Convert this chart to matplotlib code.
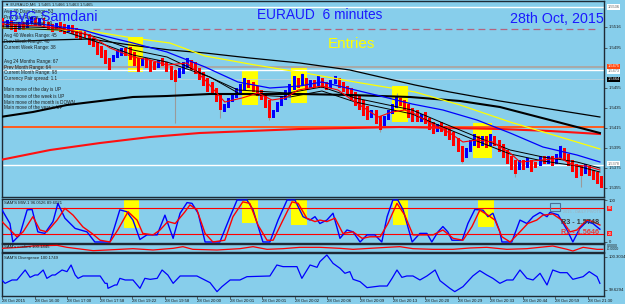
import numpy as np
import matplotlib
matplotlib.use('Agg')
import matplotlib.pyplot as plt
from matplotlib.patches import Rectangle
from matplotlib.transforms import blended_transform_factory as blend

plt.rcParams['font.family'] = ['Liberation Sans', 'DejaVu Sans']

# ---------------- data (prices in pips = price * 10000) ----------------
open_pips = [15525, 15515, 15523, 15519, 15513, 15521, 15515, 15519, 15525, 15517,
             15525, 15521, 15519, 15513, 15521, 15519, 15511, 15518, 15515, 15513,
             15513, 15509, 15505, 15501, 15497, 15493, 15485, 15481, 15485, 15487,
             15495, 15496, 15491, 15485, 15477, 15485, 15483, 15481, 15475, 15485,
             15481, 15477, 15473, 15465, 15469, 15475, 15483, 15481, 15475, 15471,
             15465, 15461, 15455, 15448, 15431, 15435, 15441, 15445, 15449, 15453,
             15463, 15461, 15457, 15453, 15449, 15443, 15425, 15431, 15437, 15443,
             15447, 15453, 15465, 15457, 15465, 15455, 15463, 15457, 15465, 15461,
             15455, 15459, 15465, 15461, 15457, 15455, 15451, 15447, 15443, 15437,
             15425, 15433, 15427, 15417, 15423, 15429, 15435, 15445, 15443, 15439,
             15435, 15433, 15421, 15431, 15425, 15421, 15411, 15421, 15417, 15415,
             15411, 15405, 15397, 15385, 15391, 15397, 15407, 15397, 15407, 15397,
             15407, 15403, 15399, 15393, 15387, 15383, 15373, 15383, 15375, 15383,
             15381, 15377, 15387, 15379, 15387, 15379, 15385, 15395, 15389, 15383,
             15379, 15377, 15369, 15377, 15373, 15371, 15367]
close_pips = [15515, 15523, 15513, 15511, 15521, 15513, 15523, 15526, 15517, 15525,
              15515, 15513, 15511, 15520, 15511, 15509, 15518, 15509, 15505, 15503,
              15505, 15498, 15496, 15488, 15485, 15479, 15473, 15488, 15493, 15495,
              15487, 15483, 15477, 15471, 15485, 15475, 15471, 15473, 15483, 15477,
              15471, 15463, 15461, 15475, 15481, 15485, 15473, 15469, 15463, 15457,
              15451, 15448, 15441, 15433, 15439, 15445, 15449, 15455, 15459, 15465,
              15455, 15451, 15447, 15443, 15435, 15425, 15433, 15441, 15447, 15453,
              15459, 15467, 15455, 15469, 15453, 15463, 15455, 15467, 15455, 15453,
              15463, 15467, 15455, 15451, 15447, 15443, 15437, 15433, 15427, 15423,
              15433, 15419, 15413, 15427, 15433, 15439, 15447, 15437, 15433, 15425,
              15421, 15421, 15429, 15419, 15413, 15409, 15419, 15411, 15407, 15403,
              15397, 15391, 15381, 15395, 15403, 15409, 15395, 15407, 15395, 15409,
              15397, 15391, 15385, 15379, 15373, 15369, 15383, 15373, 15385, 15371,
              15375, 15387, 15379, 15387, 15377, 15389, 15397, 15383, 15377, 15371,
              15365, 15367, 15379, 15367, 15363, 15359, 15355]
wick_idx = [42, 53, 65, 73, 92, 96, 112, 125, 136, 141]
wick_hi = [15475, 15448, 15443, 15470, 15427, 15450, 15397, 15383, 15398, 15377]
wick_lo = [15420, 15425, 15423, 15457, 15411, 15435, 15380, 15366, 15385, 15356]

# moving averages (bar position, pips)
ma_slow_x = [-0.7, 11.5, 21.2, 31.0, 40.7, 49.3, 60.2, 72.4, 84.6, 100.5, 109.0, 121.2, 133.4, 145.6]
ma_slow = [15501, 15503, 15504, 15498, 15493, 15490, 15485, 15480, 15473, 15458, 15451, 15442, 15434, 15426]
ma_long_x = [-0.7, 7.3, 15.6, 23.7, 31.7, 40.0, 50.5, 72.4, 84.6, 99.3, 111.5, 121.2, 133.4, 145.6]
ma_long = [15426, 15431, 15438, 15442, 15446, 15447, 15449, 15449, 15448, 15446, 15442, 15436, 15423, 15410]
ma_red_long_x = [-0.7, 11.5, 23.7, 35.9, 48.0, 60.2, 72.4, 84.6, 96.8, 109.0, 121.2, 133.4, 145.6]
ma_red_long = [15383, 15393, 15400, 15406, 15410, 15412, 15414, 15415, 15416, 15415, 15414, 15412, 15409]
ma_yellow_x = [-0.7, 21.2, 31.7, 40.7, 49.3, 61.5, 73.6, 85.9, 100.5, 111.5, 123.7, 135.9, 145.6]
ma_yellow = [15515, 15512, 15505, 15500, 15487, 15478, 15470, 15461, 15451, 15438, 15421, 15406, 15394]
ma_blue_x = [-0.7, 9.0, 19.5, 23.7, 31.7, 40.0, 49.3, 57.3, 65.1, 72.4, 77.8, 85.9, 92.0, 99.8,
             107.3, 115.6, 123.7, 131.7, 140.0, 145.6]
ma_blue = [15521, 15519, 15513, 15508, 15500, 15491, 15476, 15461, 15455, 15457, 15461, 15453, 15447, 15439,
           15433, 15423, 15410, 15396, 15388, 15381]
ma_blk1_x = [-0.7, 13.9, 23.7, 31.7, 40.0, 49.3, 57.3, 69.5, 77.8, 85.9, 99.8, 107.3, 115.6, 123.7, 131.7, 140.0, 145.6]
ma_blk1 = [15517, 15515, 15505, 15493, 15486, 15468, 15453, 15450, 15456, 15445, 15433, 15420, 15406, 15393, 15386, 15381, 15375]
ma_blk2_x = [-0.7, 13.9, 23.7, 31.7, 40.0, 50.5, 57.8, 70.0, 77.8, 85.9, 99.8, 107.3, 115.6, 123.7, 131.7, 140.0, 145.6]
ma_blk2 = [15515, 15513, 15500, 15488, 15481, 15466, 15449, 15446, 15452, 15441, 15429, 15416, 15402, 15389, 15382, 15377, 15371]
ma_red_x = [-0.7, 9.0, 16.3, 21.2, 26.1, 31.7, 35.9, 40.0, 44.9, 49.3, 54.1, 58.3, 62.2, 65.6, 68.8, 72.0, 77.8,
            81.7, 85.9, 91.5, 94.9, 98.0, 100.5, 104.1, 109.0, 112.2, 115.6, 119.5, 123.7, 126.1, 131.7, 135.9,
            139.0, 142.4, 145.6]
ma_red = [15519, 15517, 15513, 15508, 15495, 15486, 15483, 15478, 15480, 15463, 15441, 15445, 15450, 15443, 15445,
          15453, 15457, 15453, 15441, 15426, 15431, 15433, 15429, 15420, 15410, 15401, 15403, 15401, 15390, 15381,
          15383, 15385, 15378, 15377, 15373]

# entry zones (bar start, bar end, top pips, bottom pips)
box_start = [30.5, 58.3, 70.2, 94.9, 114.6]
box_end = [34.1, 62.2, 74.1, 98.8, 119.3]
box_top = [15506, 15473, 15475, 15457, 15420]
box_bot = [15471, 15438, 15440, 15421, 15385]
osc_box_start = [29.5, 58.3, 70.2, 95.1, 115.9]
osc_box_end = [33.2, 62.2, 74.1, 98.8, 119.8]
osc_box_bot = [33.3, 45.2, 40.5, 40.5, 35.7]

# horizontal levels (pips)
white_levels = [15536, 15472.5, 15378]
gray_level = 15475.5
faint_level = 15464
orange_level = 15416
dash_level = 15514

# oscillator SAM'S MW-1
osc_blue_x = [-0.25, 1.7, 2.4, 4.1, 5.9, 7.1, 8.5, 10.2, 12.2, 13.4, 15.1, 17.6, 20.5, 22.4, 26.1, 28.5, 30.2,
              31.7, 33.4, 35.1, 37.6, 39.5, 41.5, 43.2, 44.9, 46.1, 47.6, 49.3, 52.9, 55.4, 57.1, 59.5, 61.0,
              63.4, 65.1, 67.1, 69.3, 71.2, 73.2, 74.9, 76.1, 77.3, 79.0, 80.5, 82.2, 83.9, 85.4, 87.1, 88.8,
              90.7, 92.4, 93.7, 95.1, 96.3, 97.6, 99.8, 101.7, 103.4, 104.6, 106.1, 107.3, 108.5, 109.5, 112.0,
              113.4, 115.1, 117.1, 118.3, 119.5, 121.2, 121.7, 124.1, 126.1, 127.8, 129.3, 131.0, 132.7, 133.4,
              135.4, 137.6, 139.0, 140.7, 142.4, 143.9, 145.6]
osc_blue = [76.6, 44, 0, 16.9, 76.6, 77.5, 24.1, 20.5, 48.6, 92, 56.7, 32.3, 24.1, 0, 0, 76.6, 72.1,
            52.2, 6, 16.9, 16.9, 63.9, 8.7, 68.5, 93.8, 92, 68.5, 0, 0, 60.3, 100, 100, 76.6,
            0, 0, 52.2, 100, 100, 60.3, 52.2, 60.3, 44, 52.2, 68.5, 8.7, 28.6, 24.1, 0, 16.9,
            16.9, 0, 60.3, 100, 100, 76.6, 0, 20.5, 20.5, 0, 24.1, 36.8, 24.1, 4.2, 4.2,
            44, 77.5, 75.7, 60.3, 68.5, 24.1, 0, 0, 52.2, 44, 60.3, 70.3, 60.3, 70.3,
            64.8, 28.6, 0, 32.3, 48.6, 44, 30.5]
osc_red_x = [-0.25, 1.0, 3.4, 4.9, 7.3, 9.0, 10.7, 13.2, 15.1, 17.1, 19.5, 21.7, 23.7, 26.1, 28.0, 30.5, 32.7,
             34.1, 36.6, 38.3, 40.2, 42.0, 44.4, 45.6, 47.3, 49.3, 51.2, 54.1, 56.1, 58.5, 60.2, 62.2, 64.4,
             65.9, 68.3, 70.5, 72.0, 74.1, 76.1, 77.3, 79.0, 81.0, 82.9, 85.4, 87.6, 89.5, 92.0, 93.9, 96.1,
             98.0, 100.0, 102.4, 104.9, 107.3, 109.8, 112.2, 114.4, 116.3, 118.3, 120.0, 121.7, 123.7, 126.1,
             128.0, 130.2, 131.7, 134.1, 136.3, 138.3, 140.0, 142.4, 143.9, 145.6]
osc_red = [48.6, 35.9, 12.4, 24.1, 60.3, 28.6, 24.1, 52.2, 80.2, 63.9, 35.9, 20.5, 4.2, 0, 28.6, 72.1, 52.2,
           20.5, 16.9, 28.6, 48.6, 44, 72.1, 88.4, 76.6, 20.5, 0, 4.2, 60.3, 95.6, 92, 40.4, 4.2,
           4.2, 52.2, 95.6, 92, 56.7, 48.6, 52.2, 48.6, 56.7, 20.5, 24.1, 8.7, 12.4, 12.4, 44, 92,
           63.9, 16.9, 16.9, 16.9, 28.6, 8.7, 4.2, 36.8, 75.7, 63.9, 52.2, 12.4, 0, 24.1,
           44, 52.2, 63.9, 66.7, 52.2, 24.1, 28.6, 52.2, 48.6, 40.4]
osc_levels = [80, 20]

# SAM's confirm
conf_x = [-0.25, 4.1, 7.3, 13.2, 15.6, 22.0, 25.4, 31.7, 36.6, 41.5, 43.9, 46.3, 52.2, 57.8, 61.0, 64.4, 68.3,
          72.4, 77.3, 82.2, 85.4, 93.7, 96.8, 100.0, 104.9, 109.8, 113.9, 118.0, 122.9, 127.8, 134.1, 137.6,
          139.0, 141.5, 144.9, 146.3]
conf = [100.09, 100.12, 100.16, 100.18, 100.12, 100.02, 100.04, 100.08, 100.04, 100.09, 100.14, 100.06, 100.04,
        100.08, 100.14, 100.06, 100.08, 100.12, 100.12, 100.09, 100.06, 100.12, 100.14, 100.08, 100.06, 100.06,
        100.10, 100.12, 100.06, 100.08, 100.16, 100.06, 100.01, 100.12, 100.06, 100.06]

# SAM'S Divergence
div_x = [-0.7, 0.5, 2.2, 3.4, 5.4, 6.6, 7.8, 8.5, 9.8, 10.7, 12.0, 12.7, 14.4, 15.6, 16.6, 17.6, 18.3, 19.5,
         23.7, 24.9, 25.4, 25.6, 27.3, 27.8, 28.5, 29.8, 31.7, 33.4, 34.6, 35.9, 37.6, 38.8, 40.2, 41.5, 43.2,
         47.3, 50.5, 52.2, 53.4, 55.4, 57.8, 59.5, 65.1, 66.8, 68.3, 71.7, 72.9, 74.9, 76.6, 77.3, 79.0, 80.5,
         82.2, 83.4, 84.6, 85.4, 87.1, 88.8, 91.9, 93.7, 94.9, 96.1, 97.3, 98.5, 100.0, 101.7, 103.4, 105.4,
         106.6, 109.0, 110.2, 112.2, 114.6, 116.3, 118.0, 119.5, 121.2, 122.9, 124.4, 126.1, 127.8, 129.3,
         131.0, 132.7, 134.1, 135.9, 137.6, 139.0, 141.5, 143.0, 144.9, 145.6]
div = [99.865, 99.764, 99.832, 99.832, 100.034, 99.885, 99.933, 99.933, 100.034, 99.865, 99.933, 99.933,
       100.034, 100.001, 100.135, 99.933, 99.865, 99.913, 99.913, 99.764, 99.764, 99.663, 99.731, 99.731,
       99.865, 99.832, 99.832, 99.663, 99.865, 99.845, 99.865, 100.034, 99.933, 99.764, 99.913, 99.913,
       99.778, 99.596, 99.697, 99.832, 99.832, 99.899, 99.913, 100.135, 100.102, 100.102, 99.865, 100.135,
       100.088, 100.203, 100.338, 100.169, 100.068, 99.967, 100.001, 99.845, 99.798, 99.677, 99.710, 99.710,
       99.865, 100.034, 99.885, 99.913, 99.913, 99.832, 99.913, 100.034, 99.818, 99.663, 99.596, 99.697,
       99.913, 100.021, 99.933, 99.865, 99.764, 99.832, 99.832, 100.034, 99.865, 99.832, 99.967, 99.731,
       100.034, 99.980, 99.980, 99.845, 99.899, 100.001, 99.899, 99.764]

time_labels = ['28 Oct 2015', '28 Oct 16:30', '28 Oct 17:00', '28 Oct 17:58', '28 Oct 19:22',
               '28 Oct 19:58', '28 Oct 20:00', '28 Oct 20:01', '28 Oct 20:01', '28 Oct 20:02',
               '28 Oct 20:06', '28 Oct 20:09', '28 Oct 20:13', '28 Oct 20:20', '28 Oct 20:29',
               '28 Oct 20:33', '28 Oct 20:44', '28 Oct 20:59', '28 Oct 21:30']
price_ticks = [1.5516, 1.5495, 1.5455, 1.5435, 1.5415, 1.5395, 1.5375, 1.5355]
info_lines = ['Avg 40 Days Range: 53', 'Prev Day Range: 22', 'Current Day Range: 19',
              'Avg 40 Weeks Range: 45', 'Prev Week Range: 40', 'Current Week Range: 38',
              'Avg 24 Months Range: 67', 'Prev Month Range: 64', 'Current Month Range: 98',
              'Currency Pair spread: 1.1',
              'Main move of the day is UP', 'Main move of the week is UP',
              'Main move of the month is DOWN', 'Main move of the year is UP']

# ---------------- figure ----------------
W, H = 625, 304
BG = '#87ceeb'
SP = '#1e2a35'
fig = plt.figure(figsize=(W / 100, H / 100), dpi=100, facecolor=BG)


def px_axes(y0, y1, x0=2, x1=604):
    a = fig.add_axes([x0 / W, 1 - y1 / H, (x1 - x0) / W, (y1 - y0) / H], facecolor=BG)
    a.set_xlim(-0.24, 146.6)
    for s in a.spines.values():
        s.set_color(SP)
        s.set_linewidth(1.0)
    a.tick_params(axis='x', bottom=False, labelbottom=False)
    a.yaxis.tick_right()
    a.tick_params(axis='y', length=2, width=0.5, color='#333333', labelsize=3.1,
                  labelcolor='#1a1a1a', pad=1.5)
    return a


def fpt(x, y):
    return x / W, 1 - y / H


ax = px_axes(1, 197)
axo = px_axes(199, 243)
axc = px_axes(244, 251.5)
axd = px_axes(252.5, 296)

# ---- main chart ----
o = np.array(open_pips) / 1e4
c = np.array(close_pips) / 1e4
idx = np.arange(len(o))
cols = np.where(c > o, '#0000ff', '#ff0000')
ax.set_ylim(1.5346, 1.5542)

for s, e, t, b in zip(box_start, box_end, box_top, box_bot):
    ax.add_patch(Rectangle((s, b / 1e4), e - s, (t - b) / 1e4, fc='#ffff00', ec='none', zorder=1))

ax.axhline(gray_level / 1e4, color='#a8a8a8', lw=1.4, zorder=1.2)
for lv in white_levels:
    ax.axhline(lv / 1e4, color='white', lw=1.0, zorder=1.3)
ax.axhline(faint_level / 1e4, color='#c8d4dc', lw=0.5, zorder=1.2)
ax.hlines(dash_level / 1e4, 22, 145.5, color='#b4647f', lw=0.9, linestyles=(0, (5.5, 3.3)), zorder=1.4)
ax.axhline(orange_level / 1e4, color='#ff5a1e', lw=1.4, zorder=1.5)

ax.vlines(wick_idx, np.array(wick_lo) / 1e4, np.array(wick_hi) / 1e4, color='#9a9a9a', lw=0.8, zorder=2.5)
ax.bar(idx, c - o, bottom=o, width=0.72, color=cols, linewidth=0, zorder=3)

ax.plot(ma_red_long_x, np.array(ma_red_long) / 1e4, color='#ff1010', lw=1.5, zorder=4)
ax.plot(ma_long_x, np.array(ma_long) / 1e4, color='#000000', lw=1.5, zorder=4)
ax.plot(ma_slow_x, np.array(ma_slow) / 1e4, color='#000000', lw=0.9, zorder=4)
ax.plot(ma_yellow_x, np.array(ma_yellow) / 1e4, color='#ffff00', lw=0.9, zorder=4)
ax.plot(ma_blue_x, np.array(ma_blue) / 1e4, color='#0000ff', lw=0.9, zorder=4)
ax.plot(ma_blk1_x, np.array(ma_blk1) / 1e4, color='#000000', lw=0.7, zorder=4)
ax.plot(ma_blk2_x, np.array(ma_blk2) / 1e4, color='#000000', lw=0.7, zorder=4)
ax.plot(ma_red_x, np.array(ma_red) / 1e4, color='#ff0000', lw=0.8, zorder=4)

ax.set_yticks(price_ticks)
ax.set_yticklabels(['%.4f' % v for v in price_ticks])


def rlabel(a, y, text, fc, tc, fs=2.8):
    a.text(1.006, y, text, transform=blend(a.transAxes, a.transData), fontsize=fs, color=tc,
           ha='left', va='center', clip_on=False, zorder=10,
           bbox=dict(boxstyle='square,pad=0.15', fc=fc, ec='none'))


rlabel(ax, white_levels[0] / 1e4, '%.4f' % (white_levels[0] / 1e4), 'white', '#555555')
rlabel(ax, gray_level / 1e4 + 0.0001, '%.4f' % (gray_level / 1e4), '#ff4a10', 'white')
rlabel(ax, white_levels[1] / 1e4 - 0.0001, '%.4f' % (white_levels[1] / 1e4), 'white', '#666666')
rlabel(ax, faint_level / 1e4 - 0.00005, '%.4f' % (faint_level / 1e4), 'black', 'white')
rlabel(ax, white_levels[2] / 1e4 + 0.00012, '%.4f' % (white_levels[2] / 1e4), 'white', '#666666')

# ---- oscillator ----
axo.set_ylim(-2.4, 102.4)
for s, e, b in zip(osc_box_start, osc_box_end, osc_box_bot):
    axo.add_patch(Rectangle((s, b), e - s, 102.4 - b, fc='#ffff00', ec='none', zorder=1))
for lv in osc_levels:
    axo.axhline(lv, color='#ff0000', lw=0.8, zorder=2)
axo.plot(osc_blue_x, osc_blue, color='#0000ff', lw=1.0, zorder=3)
axo.plot(osc_red_x, osc_red, color='#ff0000', lw=1.0, zorder=3)
axo.set_yticks([0, 100])
axo.set_yticklabels(['0', '100'])
for lv in osc_levels:
    rlabel(axo, lv, '%d' % lv, '#ff2020', 'white')

# ---- confirm ----
axc.set_ylim(99.995, 100.22)
axc.plot(conf_x, conf, color='#ff0000', lw=0.9, zorder=3)
axc.set_yticks([])
fig.text(*fpt(607, 247.5), '0.0000\n-0.0000', fontsize=2.6, color='#1a1a1a', va='center',
         linespacing=0.9)

# ---- divergence ----
axd.set_ylim(99.508, 100.388)
axd.plot(div_x, div, color='#0000ff', lw=0.9, zorder=3)
axd.set_yticks([99.6294, 100.3034])
axd.set_yticklabels(['99.6294', '100.3034'])
tick_pos = np.arange(len(time_labels)) * 7.94 - 0.25
axd.set_xticks(tick_pos)
axd.set_xticklabels(time_labels)
axd.tick_params(axis='x', bottom=True, labelbottom=True, length=1.8, width=0.5, color='#333333',
                labelsize=3.1, labelcolor='#1a1a1a', pad=0.6)
for lab in axd.get_xticklabels():
    lab.set_ha('left')

# ---- overlay texts ----
fig.text(*fpt(5, 5), '\u25bc EURAUD,M6  1.5465 1.5466 1.5463 1.5465', fontsize=3.1,
         color='#1a1a1a', va='center')
info_y = [12, 17.5, 23, 35, 41.5, 47.5, 61, 67, 72.5, 78.5, 90, 96.5, 102, 108]
for t, yy in zip(info_lines, info_y):
    fig.text(*fpt(4, yy), t, fontsize=3.3, color='#1a1a1a', va='center', zorder=20)
fig.text(*fpt(9, 17.5), 'ByG Samdani', fontsize=10.3, color='#1a1aff', va='center', zorder=21)
fig.text(*fpt(257, 15), 'EURAUD  6 minutes', fontsize=9.9, color='#1a1aff', va='center')
fig.text(*fpt(510, 19), '28th Oct, 2015', fontsize=10.3, color='#1a1aff', va='center')
fig.text(*fpt(328, 44), 'Entries', fontsize=11, color='#ffff00', va='center')

fig.text(*fpt(4, 203.5), "SAM'S MW-1 96.0526 89.6021", fontsize=3.1, color='#1a1a1a', va='center')
fig.text(*fpt(4, 247.5), "SAM's confirm 100.1445", fontsize=3.1, color='#1a1a1a', va='center')
fig.text(*fpt(4, 258), "SAM'S Divergence 100.1749", fontsize=3.1, color='#1a1a1a', va='center')

fig.add_artist(Rectangle(fpt(550, 211), 10 / W, 8 / H, transform=fig.transFigure, fc='none',
                         ec='#4a6f98', lw=0.8))
fig.text(*fpt(563, 212), '2015 - DAILY PIVOTS', fontsize=2.8, color='#9fb0bc', va='center')
fig.text(*fpt(561, 223), 'R3 - 1.5748', fontsize=5.2, color='#3a3a3a', va='center', weight='bold')
fig.text(*fpt(561, 232.5), 'R2 - 1.5646', fontsize=5.2, color='#e83a3a', va='center', weight='bold')

fig.savefig('out.png', dpi=100, facecolor=BG)
